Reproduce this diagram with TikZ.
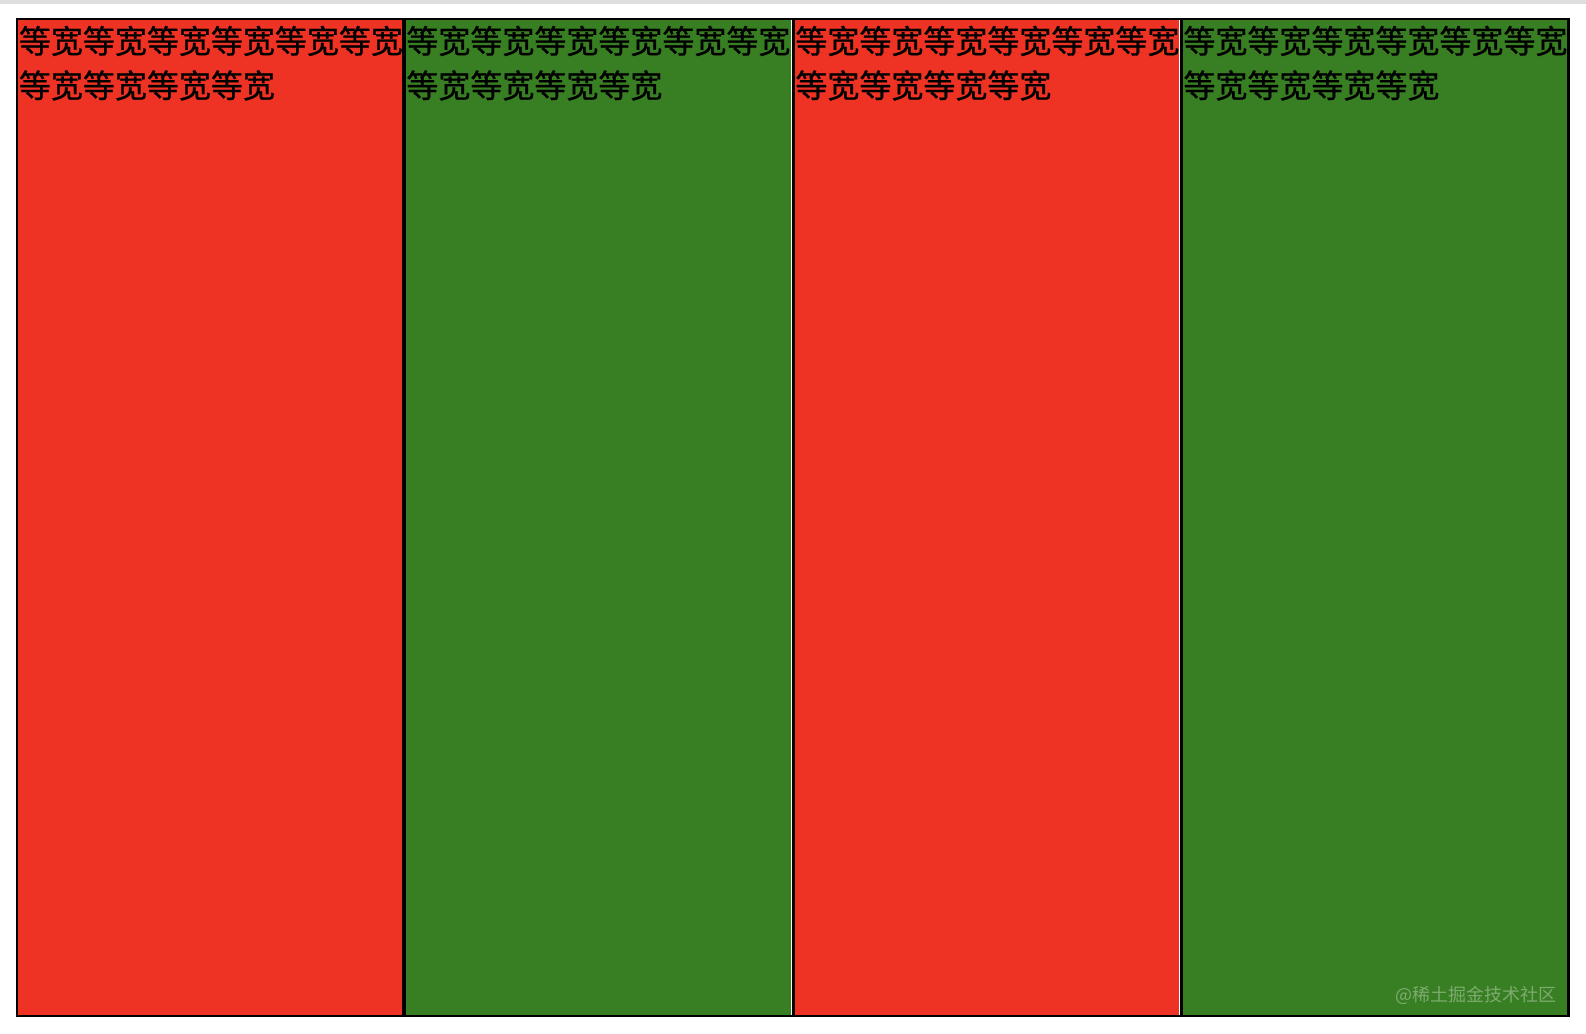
\documentclass[tikz,border=0pt]{standalone}
\usepackage{fontspec}
\newfontfamily\cjk[FakeBold=0.8]{Noto Sans CJK SC}
\newfontfamily\cjkwm{Noto Sans CJK SC}
\definecolor{cred}{RGB}{238,50,36}
\definecolor{cgreen}{RGB}{56,126,34}
\definecolor{topbar}{RGB}{222,222,222}
\tikzset{
  txt/.style={anchor=base west, inner sep=0pt, font=\cjk\fontsize{16pt}{22pt}\selectfont, text=black},
  wm/.style={anchor=base east, inner sep=0pt, font=\cjkwm\fontsize{9pt}{11pt}\selectfont, text=white, text opacity=0.35},
}
\begin{document}
\begin{tikzpicture}[x=0.5pt,y=-0.5pt]
\useasboundingbox (0,0) rectangle (1586,1034);
\fill[white] (0,0) rectangle (1586,1034);
\fill[topbar] (0,0) rectangle (1586,4);
% columns
\fill[cred] (17,18) rectangle (404,1017);
\fill[cgreen] (404,18) rectangle (791,1017);
\fill[white] (791,18) rectangle (792.4,1017);
\fill[cred] (792.4,18) rectangle (1179,1017);
\fill[white] (1179,18) rectangle (1180.4,1017);
\fill[cgreen] (1180.4,18) rectangle (1568,1017);
% borders
\draw[black, line width=1pt] (16.7,18.7) -- (1568.5,18.7);
\draw[black, line width=1.15pt] (16.7,1016.1) -- (1568.5,1016.1);
\draw[black, line width=1pt] (16.7,17.7) -- (16.7,1017.2);
\draw[black, line width=1.75pt] (404,17.7) -- (404,1017.2);
\draw[black, line width=1.5pt] (793.9,17.7) -- (793.9,1017.2);
\draw[black, line width=1.5pt] (1181.8,17.7) -- (1181.8,1017.2);
\draw[black, line width=1.15pt] (1568.5,17.7) -- (1568.5,1017.2);
% texts
\node[txt] (t1a) at (18.5,53) {等宽等宽等宽等宽等宽等宽};
\node[txt] (t1b) at (18.5,97.5) {等宽等宽等宽等宽};
\node[txt] (t2a) at (406,53) {等宽等宽等宽等宽等宽等宽};
\node[txt] (t2b) at (406,97.5) {等宽等宽等宽等宽};
\node[txt] (t3a) at (795,53) {等宽等宽等宽等宽等宽等宽};
\node[txt] (t3b) at (795,97.5) {等宽等宽等宽等宽};
\node[txt] (t4a) at (1183,53) {等宽等宽等宽等宽等宽等宽};
\node[txt] (t4b) at (1183,97.5) {等宽等宽等宽等宽};
\node[wm] (wm) at (1557,1001) {@稀土掘金技术社区};
\end{tikzpicture}
\end{document}
